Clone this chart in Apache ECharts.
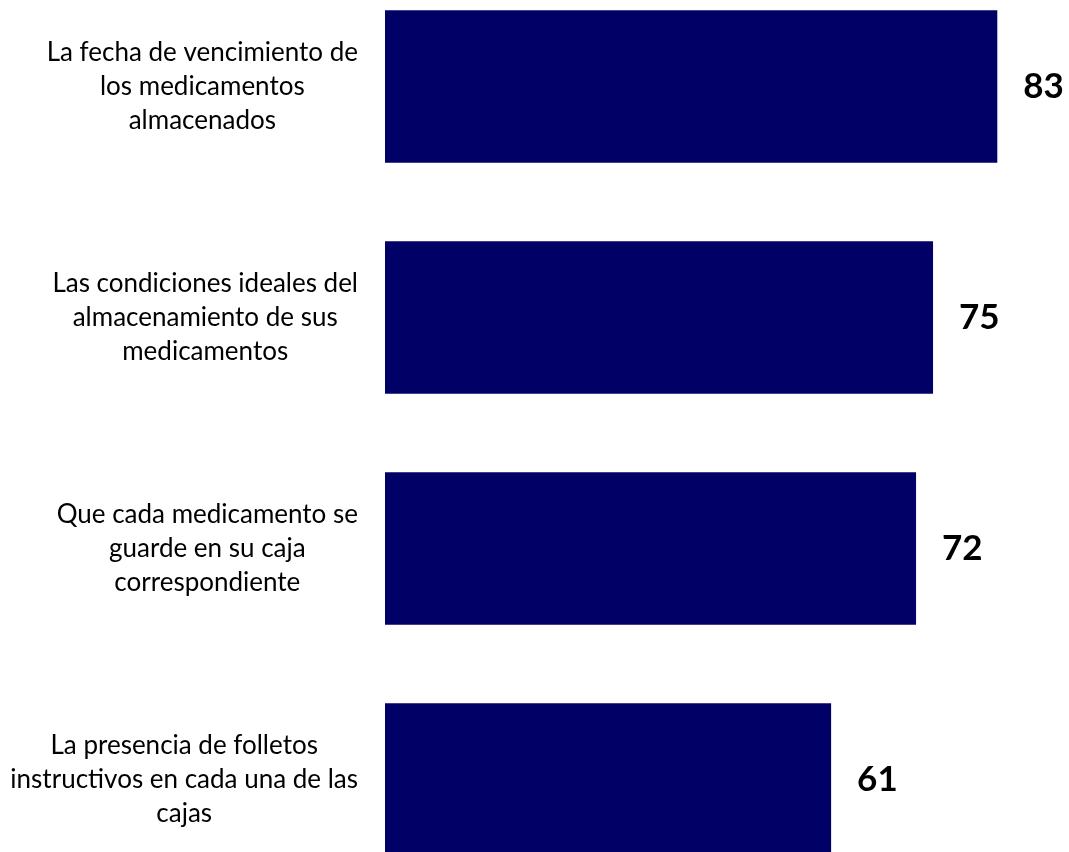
<!DOCTYPE html>
<html>
<head>
<meta charset="utf-8">
<script src="https://cdn.jsdelivr.net/npm/echarts@6/dist/echarts.min.js"></script>
<style>
html,body{margin:0;padding:0;background:#fff;}
#chart{width:1069px;height:852px;}
</style>
</head>
<body>
<div id="chart"></div>
<script>
const categories = [
  ['La fecha de vencimiento de', 'los medicamentos', 'almacenados'],
  ['Las condiciones ideales del', 'almacenamiento de sus', 'medicamentos'],
  ['Que cada medicamento se', 'guarde en su caja', 'correspondiente'],
  ['La presencia de folletos', 'instructivos en cada una de las', 'cajas']
];
const values = [82.9, 74.2, 71.9, 60.4];
const valueLabels = ['83', '75', '72', '61'];

const chart = echarts.init(document.getElementById('chart'));
chart.setOption({
  animation: false,
  backgroundColor: '#ffffff',
  grid: { left: 385, right: 19.26, top: -29, height: 924, containLabel: false, outerBoundsMode: 'none' },
  xAxis: { type: 'value', min: 0, max: 90, show: false },
  yAxis: {
    type: 'category',
    inverse: true,
    data: categories.map((c, i) => String(i)),
    axisLine: { show: false },
    axisTick: { show: false },
    splitLine: { show: false },
    axisLabel: {
      margin: 27,
      align: 'right',
      formatter: function (v) {
        return categories[+v].map(l => '{c|' + l + '}').join('\n');
      },
      rich: {
        c: { align: 'center', fontFamily: 'Lato', fontSize: 26, lineHeight: 34, color: '#000' }
      }
    }
  },
  series: [{
    type: 'bar',
    data: values,
    barCategoryGap: '34%',
    itemStyle: { color: '#000066' },
    label: {
      show: true,
      position: 'right',
      distance: 26,
      formatter: p => valueLabels[p.dataIndex],
      fontFamily: 'Lato',
      fontWeight: 'bold',
      fontSize: 35,
      color: '#000'
    }
  }]
});
</script>
</body>
</html>
